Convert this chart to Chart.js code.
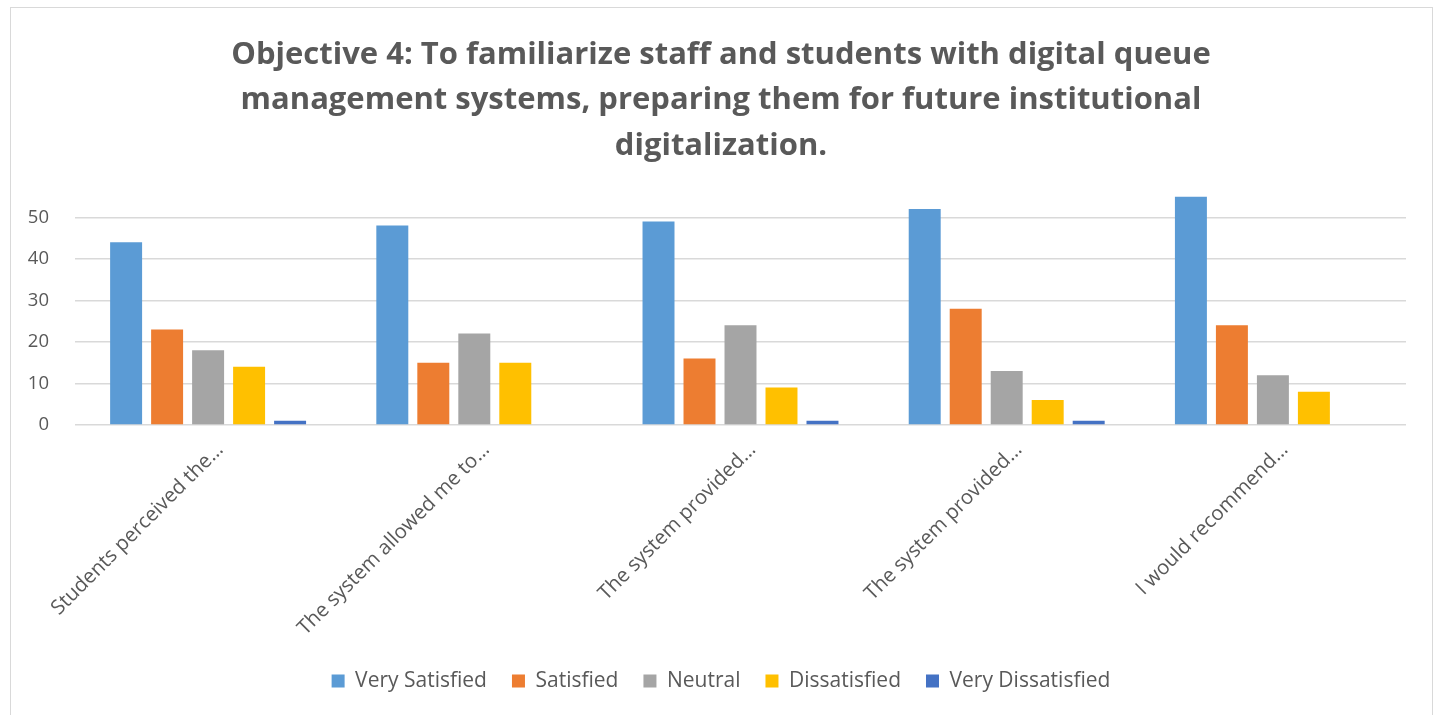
<!DOCTYPE html>
<html>
<head>
<meta charset="utf-8">
<script src="https://cdn.jsdelivr.net/npm/chart.js@4.4.1/dist/chart.umd.min.js"></script>
<style>
  html, body { margin: 0; padding: 0; background: #ffffff; overflow: hidden; }
  #wrap { position: relative; width: 1442px; height: 715px; }
  #frame { position: absolute; left: 10px; top: 7px; width: 1423px; height: 720px; border: 1.5px solid #d9d9d9; box-sizing: border-box; }
  canvas { position: absolute; left: 0; top: 0; }
</style>
</head>
<body>
<div id="wrap">
  <div id="frame"></div>
  <canvas id="c" width="1442" height="715"></canvas>
</div>
<script>
const titleLines = [
  "Objective 4: To familiarize staff and students with digital queue",
  "management systems, preparing them for future institutional",
  "digitalization."
];
const categories = [
  "Students perceived the\u2026",
  "The system allowed me to\u2026",
  "The system provided\u2026",
  "The system provided\u2026",
  "I would recommend\u2026"
];
const seriesNames = ["Very Satisfied", "Satisfied", "Neutral", "Dissatisfied", "Very Dissatisfied"];
const verySatisfied    = [44, 48, 49, 52, 55];
const satisfied        = [23, 15, 16, 28, 24];
const neutral          = [18, 22, 24, 13, 12];
const dissatisfied     = [14, 15, 9, 6, 8];
const veryDissatisfied = [1, 0, 1, 1, 0];
const yTicks = [0, 10, 20, 30, 40, 50];
const colors = ["#5B9BD5", "#ED7D31", "#A5A5A5", "#FFC000", "#4472C4"];

const allSeries = [verySatisfied, satisfied, neutral, dissatisfied, veryDissatisfied];
const textColor = "#595959";
const family = "'Open Sans', Lato, sans-serif";

new Chart(document.getElementById("c"), {
  type: "bar",
  data: {
    labels: categories,
    datasets: allSeries.map((d, i) => ({
      label: seriesNames[i],
      data: d,
      backgroundColor: colors[i],
      borderWidth: 0,
      barPercentage: 0.78,
      categoryPercentage: 0.77,
      yAxisID: "y"
    }))
  },
  options: {
    responsive: false,
    animation: false,
    devicePixelRatio: 1,
    layout: { padding: { left: 0, right: 0, top: 0, bottom: 13.5 } },
    plugins: {
      title: {
        display: true,
        text: titleLines,
        color: textColor,
        font: { family: family, size: 31, weight: "bold", lineHeight: 1.468 },
        padding: { top: 32, bottom: 28 }
      },
      legend: {
        position: "bottom",
        labels: {
          color: textColor,
          font: { family: family, size: 21 },
          boxWidth: 13,
          boxHeight: 13,
          padding: 25
        }
      },
      tooltip: { enabled: false }
    },
    scales: {
      x: {
        grid: { display: false },
        border: { display: false },
        ticks: {
          color: textColor,
          font: { family: family, size: 20.3 },
          minRotation: 45,
          maxRotation: 45,
          autoSkip: false,
          labelOffset: 12,
          padding: 5
        },
        afterFit: (axis) => { axis.height = 220.5; }
      },
      y: {
        position: "left",
        min: 0,
        max: 55,
        grid: { color: "#d9d9d9", lineWidth: 1.5, drawTicks: false },
        border: { display: false },
        ticks: {
          color: textColor,
          font: { family: family, size: 18.5 },
          padding: 26,
          stepSize: 10
        },
        afterBuildTicks: (axis) => {
          axis.ticks = yTicks.map(v => ({ value: v }));
        },
        afterFit: (axis) => { axis.width = 75; }
      },
      yRight: {
        position: "right",
        min: 0,
        max: 55,
        grid: { display: false },
        border: { display: false },
        ticks: { display: false },
        afterFit: (axis) => { axis.width = 36; }
      }
    }
  }
});
</script>
</body>
</html>
